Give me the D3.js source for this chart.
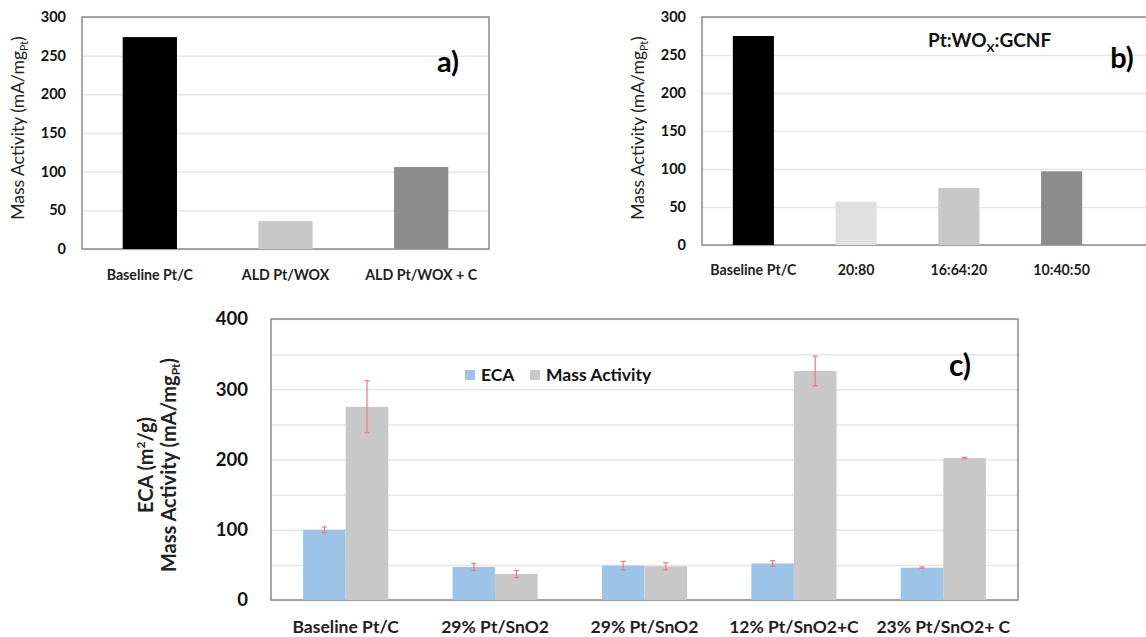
<!DOCTYPE html>
<html>
<head>
<meta charset="utf-8">
<script src="https://cdn.jsdelivr.net/npm/d3@7"></script>
<style>
  body { margin: 0; background: #fff; }
  svg { display: block; font-family: Lato, "Open Sans", sans-serif; }
</style>
</head>
<body>
<script>
// panel a
var aCats = ['Baseline Pt/C', 'ALD Pt/WOX', 'ALD Pt/WOX + C'];
var aVals = [274, 36, 106];
var aColors = ['#000000', '#c8c8c8', '#8c8c8c'];

// panel b
var bCats = ['Baseline Pt/C', '20:80', '16:64:20', '10:40:50'];
var bVals = [275, 57, 75, 97];
var bColors = ['#000000', '#e0e0e0', '#c8c8c8', '#8c8c8c'];

// panel c
var cCats = ['Baseline Pt/C', '29% Pt/SnO2', '29% Pt/SnO2', '12% Pt/SnO2+C', '23% Pt/SnO2+ C'];
var cSeries = ['ECA', 'Mass Activity'];
var ecaVals = [100, 47, 49, 52, 46];
var ecaErr = [4, 5, 6, 4, 1];
var maVals = [275, 37, 48, 326, 202];
var maErr = [37, 5, 5, 21, 1];
var cColors = ['#9dc3e6', '#c8c8c8'];

var svg = d3.select('body').append('svg').attr('width', 1146).attr('height', 637);

function yLabel(g, x, y, size, gap, lines) {
  lines.forEach(function (l, i) {
    var t = g.append('text')
      .attr('transform', 'translate(' + (x + i * gap) + ',' + y + ') rotate(-90)')
      .attr('text-anchor', 'middle').attr('dy', '0.35em').attr('font-size', size).attr('font-weight', l.w || 'normal')
      .attr('fill', '#222');
    t.append('tspan').text(l.a);
    if (l.sub) t.append('tspan').attr('font-size', size * 0.6).attr('dy', size * 0.2).text(l.sub);
    if (l.sup) t.append('tspan').attr('font-size', size * 0.6).attr('dy', -size * 0.4).text(l.sup);
    t.append('tspan').attr('dy', l.sub ? -size * 0.2 : (l.sup ? size * 0.4 : 0)).text(l.b);
  });
}

function frame(g, x0, x1, y, yTop) {
  var grid = d3.axisLeft(y).ticks(6).tickSize(-(x1 - x0)).tickFormat('');
  g.append('g').attr('transform', 'translate(' + x0 + ',0)').call(grid)
    .call(function (s) { s.select('.domain').remove(); })
    .selectAll('line').attr('stroke', '#e6e6e6').attr('stroke-width', 1.5);
  g.append('rect').attr('x', x0).attr('y', yTop).attr('width', x1 - x0).attr('height', y.range()[0] - yTop)
    .attr('fill', 'none').attr('stroke', '#8a8a8a').attr('stroke-width', 1.5);
}

function ticks(g, x0, y, n, size, pad) {
  g.append('g').attr('transform', 'translate(' + x0 + ',0)')
    .call(d3.axisLeft(y).ticks(n).tickSize(0).tickPadding(pad))
    .call(function (s) { s.select('.domain').remove(); })
    .selectAll('text').attr('font-size', size).attr('font-weight', 'bold')
    .attr('font-family', 'Lato, sans-serif').attr('fill', '#111');
}

function simplePanel(cats, vals, colors, x0, x1, xEdge, yTop, yBot, labelY) {
  var g = svg.append('g');
  var x = d3.scaleBand().domain(d3.range(cats.length)).range([x0, x1]).paddingInner(0.6).paddingOuter(0.3);
  var y = d3.scaleLinear().domain([0, 300]).range([yBot, yTop]);
  frame(g, x0, xEdge, y, yTop);
  g.selectAll('rect.bar').data(vals).enter().append('rect').attr('class', 'bar')
    .attr('x', function (d, i) { return x(i); })
    .attr('y', function (d) { return y(d); })
    .attr('width', x.bandwidth())
    .attr('height', function (d) { return y(0) - y(d); })
    .attr('fill', function (d, i) { return colors[i]; });
  ticks(g, x0, y, 6, 14.5, 16);
  g.selectAll('text.cat').data(cats).enter().append('text').attr('class', 'cat')
    .attr('x', function (d, i) { return x(i) + x.bandwidth() / 2; })
    .attr('y', labelY).attr('dy', '0.35em')
    .attr('text-anchor', 'middle').attr('font-size', 14.2).attr('font-weight', 'bold').attr('fill', '#222')
    .text(function (d) { return d; });
  return g;
}

var ga = simplePanel(aCats, aVals, aColors, 82, 489, 489, 17, 249, 275);
yLabel(ga, 18, 128, 17.5, 0, [{ a: 'Mass Activity (mA/mg', sub: 'Pt', b: ')' }]);
ga.append('text').attr('x', 448).attr('y', 62).attr('dy', '0.35em').attr('text-anchor', 'middle')
  .attr('font-size', 29).attr('font-weight', 'bold').text('a)');

var gb = simplePanel(bCats, bVals, bColors, 702, 1113, 1160, 17, 245, 270);
yLabel(gb, 638, 128, 17.5, 0, [{ a: 'Mass Activity (mA/mg', sub: 'Pt', b: ')' }]);
gb.append('text').attr('x', 1122).attr('y', 58).attr('dy', '0.35em').attr('text-anchor', 'middle')
  .attr('font-size', 29).attr('font-weight', 'bold').text('b)');
var tb = gb.append('text').attr('x', 928).attr('y', 40).attr('dy', '0.35em')
  .attr('font-size', 19).attr('font-weight', 'bold').attr('fill', '#111');
tb.append('tspan').text('Pt:WO');
tb.append('tspan').attr('font-size', 12).attr('dy', 5).text('X');
tb.append('tspan').attr('dy', -5).text(':GCNF');

// panel c
var gc = svg.append('g');
var cx0 = 271, cx1 = 1018, cTop = 319, cBot = 600;
var x = d3.scaleBand().domain(d3.range(cCats.length)).range([cx0, cx1]).paddingInner(0.43).paddingOuter(0.215);
var xs = d3.scaleBand().domain(cSeries).range([0, x.bandwidth()]);
var y = d3.scaleLinear().domain([0, 400]).range([cBot, cTop]);
frame(gc, cx0, cx1, y, cTop);

var rows = cCats.map(function (c, i) {
  return [
    { s: 'ECA', v: ecaVals[i], e: ecaErr[i], i: i },
    { s: 'Mass Activity', v: maVals[i], e: maErr[i], i: i }
  ];
});
var groups = gc.selectAll('g.grp').data(rows).enter().append('g').attr('class', 'grp')
  .attr('transform', function (d, i) { return 'translate(' + x(i) + ',0)'; });
groups.selectAll('rect').data(function (d) { return d; }).enter().append('rect')
  .attr('x', function (d) { return xs(d.s); })
  .attr('y', function (d) { return y(d.v); })
  .attr('width', xs.bandwidth())
  .attr('height', function (d) { return y(0) - y(d.v); })
  .attr('fill', function (d) { return cColors[cSeries.indexOf(d.s)]; });

var err = groups.selectAll('g.err').data(function (d) { return d; }).enter().append('g').attr('class', 'err')
  .attr('stroke', '#f07878').attr('stroke-width', 1.2);
err.append('line')
  .attr('x1', function (d) { return xs(d.s) + xs.bandwidth() / 2; })
  .attr('x2', function (d) { return xs(d.s) + xs.bandwidth() / 2; })
  .attr('y1', function (d) { return y(d.v - d.e); })
  .attr('y2', function (d) { return y(d.v + d.e); });
[1, -1].forEach(function (sg) {
  err.append('line')
    .attr('x1', function (d) { return xs(d.s) + xs.bandwidth() / 2 - 2.5; })
    .attr('x2', function (d) { return xs(d.s) + xs.bandwidth() / 2 + 2.5; })
    .attr('y1', function (d) { return y(d.v + sg * d.e); })
    .attr('y2', function (d) { return y(d.v + sg * d.e); });
});

ticks(gc, cx0, y, 4, 18.5, 23);
gc.selectAll('text.cat').data(cCats).enter().append('text').attr('class', 'cat')
  .attr('x', function (d, i) { return x(i) + x.bandwidth() / 2; })
  .attr('y', 627).attr('dy', '0.35em')
  .attr('text-anchor', 'middle').attr('font-size', 17.5).attr('font-weight', 'bold').attr('fill', '#222')
  .text(function (d) { return d; });

yLabel(gc, 146, 465, 20, 23, [
  { a: 'ECA (m', sup: '2', b: '/g)', w: 'bold' },
  { a: 'Mass Activity (mA/mg', sub: 'Pt', b: ')', w: 'bold' }
]);

var leg = gc.selectAll('g.leg').data(cSeries).enter().append('g').attr('class', 'leg')
  .attr('transform', function (d, i) { return 'translate(' + [465, 530][i] + ',370)'; });
leg.append('rect').attr('width', 10).attr('height', 10).attr('fill', function (d, i) { return cColors[i]; });
leg.append('text').attr('x', 16).attr('y', 5).attr('dy', '0.35em')
  .attr('font-size', 17.5).attr('font-weight', 'bold').attr('fill', '#111').text(function (d) { return d; });

gc.append('text').attr('x', 960).attr('y', 365).attr('dy', '0.35em').attr('text-anchor', 'middle')
  .attr('font-size', 30).attr('font-weight', 'bold').text('c)');
</script>
</body>
</html>
